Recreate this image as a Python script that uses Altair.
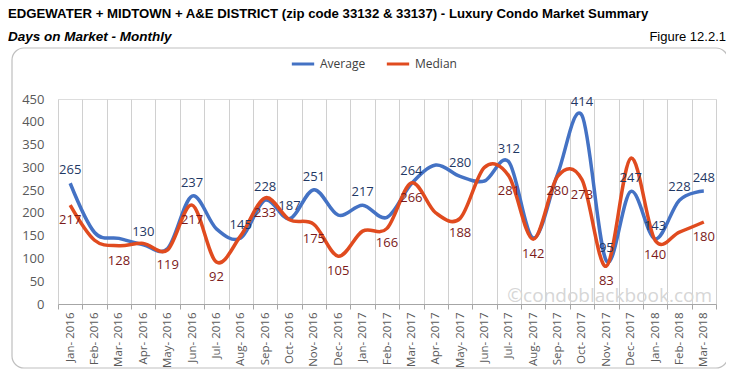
import altair as alt
import pandas as pd

months = ["Jan- 2016", "Feb- 2016", "Mar- 2016", "Apr- 2016", "May- 2016", "Jun- 2016",
          "Jul- 2016", "Aug- 2016", "Sep- 2016", "Oct- 2016", "Nov- 2016", "Dec- 2016",
          "Jan- 2017", "Feb- 2017", "Mar- 2017", "Apr- 2017", "May- 2017", "Jun- 2017",
          "Jul- 2017", "Aug- 2017", "Sep- 2017", "Oct- 2017", "Nov- 2017", "Dec- 2017",
          "Jan- 2018", "Feb- 2018", "Mar- 2018"]
average = [265, 157, 144, 130, 122, 237, 165, 145, 228, 187, 251, 195, 217, 190,
           264, 305, 280, 270, 312, 145, 285, 414, 95, 247, 143, 228, 248]
median = [217, 140, 128, 133, 119, 217, 92, 150, 233, 185, 175, 105, 160, 166,
          266, 200, 188, 300, 281, 142, 280, 273, 83, 320, 140, 158, 180]
# months whose value carries a data label in the reference
avg_labelled = ["Jan- 2016", "Apr- 2016", "Jun- 2016", "Aug- 2016", "Sep- 2016", "Oct- 2016",
                "Nov- 2016", "Jan- 2017", "Mar- 2017", "May- 2017", "Jul- 2017", "Oct- 2017",
                "Nov- 2017", "Dec- 2017", "Jan- 2018", "Feb- 2018", "Mar- 2018"]
med_labelled = ["Jan- 2016", "Mar- 2016", "May- 2016", "Jun- 2016", "Jul- 2016", "Sep- 2016",
                "Nov- 2016", "Dec- 2016", "Feb- 2017", "Mar- 2017", "May- 2017", "Jul- 2017",
                "Aug- 2017", "Sep- 2017", "Oct- 2017", "Nov- 2017", "Jan- 2018", "Mar- 2018"]
series = ["Average", "Median"]
colors = ["#4472C4", "#E04B1F"]

rows = []
for m, a, md in zip(months, average, median):
    rows.append({"Month": m, "Series": "Average", "Days": a,
                 "Label": str(a) if m in avg_labelled else ""})
    rows.append({"Month": m, "Series": "Median", "Days": md,
                 "Label": str(md) if m in med_labelled else ""})
df = pd.DataFrame(rows)

W, H = 658, 205
font = "Open Sans"
tfont = "Liberation Sans"

xscale = alt.Scale(type="band", paddingInner=0, paddingOuter=0)
yscale = alt.Scale(domain=[0, 450], nice=False)

x_axis = alt.X("Month:N", sort=months, scale=xscale, bandPosition=0.5,
               axis=alt.Axis(title=None, labelAngle=270, tickBand="extent", grid=True,
                             gridColor="#d0d0d0", gridWidth=1, domainColor="#a6a6a6",
                             tickColor="#a6a6a6", tickSize=5, labelColor="#595959",
                             labelFontSize=11.5, labelFont=font, labelPadding=3))
y_axis = alt.Y("Days:Q", scale=yscale,
               axis=alt.Axis(title=None, values=list(range(0, 451, 50)), grid=False,
                             ticks=False, domain=False, labelColor="#595959",
                             labelFontSize=13, labelFont=font, labelPadding=14))

base = alt.Chart(df)

lines = base.mark_line(interpolate="cardinal", strokeWidth=3.5).encode(
    x=x_axis, y=y_axis,
    color=alt.Color("Series:N", scale=alt.Scale(domain=series, range=colors),
                    legend=alt.Legend(title=None, orient="none", legendX=232, legendY=-48,
                                      direction="horizontal", symbolType="stroke",
                                      symbolStrokeWidth=3, symbolSize=500,
                                      labelFontSize=12, labelFont=font,
                                      labelColor="#404040", columnPadding=14)),
)

avg_text = base.transform_filter(alt.datum.Series == "Average").mark_text(
    dy=-13, fontSize=13, font=font, color="#1F3864").encode(x=x_axis, y=y_axis, text="Label:N")
med_text = base.transform_filter(alt.datum.Series == "Median").mark_text(
    dy=15, fontSize=13, font=font, color="#7B1A1A").encode(x=x_axis, y=y_axis, text="Label:N")

one = alt.Chart(pd.DataFrame({"k": [0]}))
border = one.mark_rect(cornerRadius=12, fillOpacity=0, stroke="#bfbfbf", strokeWidth=1.2).encode(
    x=alt.value(-46), x2=alt.value(670), y=alt.value(-51), y2=alt.value(269))

title = one.mark_text(align="left", baseline="middle", fontSize=13.2, fontWeight="bold",
                      font=tfont, color="#000000").encode(
    x=alt.value(-50), y=alt.value(-85),
    text=alt.value("EDGEWATER + MIDTOWN + A&E DISTRICT (zip code 33132 & 33137) - Luxury Condo Market Summary"))
subtitle = one.mark_text(align="left", baseline="middle", fontSize=13.5, fontWeight="bold",
                         fontStyle="italic", font=tfont, color="#000000").encode(
    x=alt.value(-50), y=alt.value(-62), text=alt.value("Days on Market - Monthly"))
figure = one.mark_text(align="right", baseline="middle", fontSize=13,
                       font=tfont, color="#000000").encode(
    x=alt.value(668), y=alt.value(-62), text=alt.value("Figure 12.2.1"))
watermark = one.mark_text(align="right", baseline="bottom", fontSize=19, font=font,
                          color="#d6d6d6").encode(
    x=alt.value(W - 4), y=alt.value(H + 2), text=alt.value("©condoblackbook.com"))

chart = alt.layer(border, lines, watermark, avg_text, med_text, title, subtitle, figure).properties(
    width=W, height=H,
    padding={"left": 50, "top": 91, "right": 10, "bottom": 70},
    autosize=alt.AutoSizeParams(type="none"),
).configure_view(fill="#f2f2f2", strokeWidth=0).configure(background="white")

chart.save("out.html", embed_options={"renderer": "svg", "actions": False})
